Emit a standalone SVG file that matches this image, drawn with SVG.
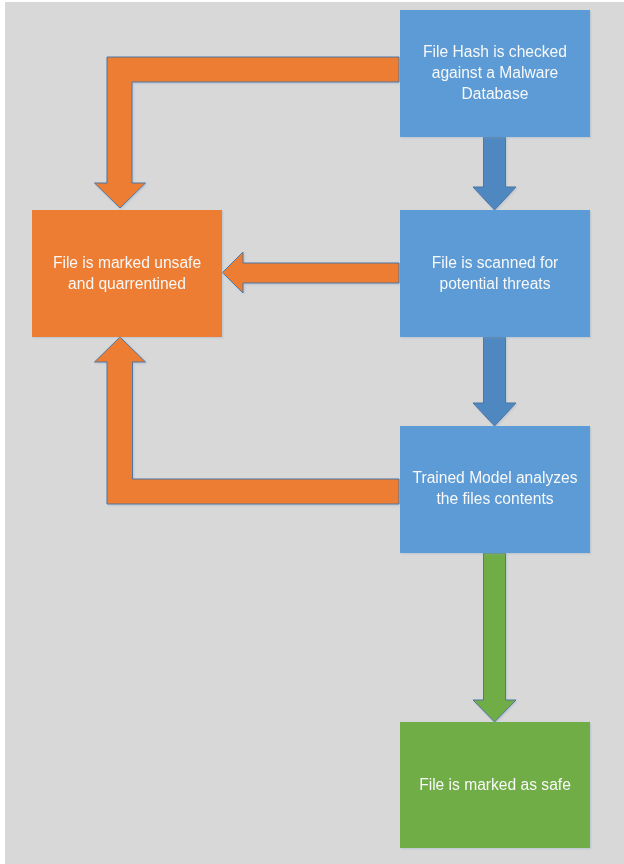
<svg xmlns="http://www.w3.org/2000/svg" width="624" height="864" viewBox="0 0 624 864">
  <defs>
    <filter id="soft" x="-10%" y="-10%" width="120%" height="120%">
      <feGaussianBlur in="SourceAlpha" stdDeviation="1.2"/>
      <feOffset dx="0.5" dy="1" result="b"/>
      <feFlood flood-color="#8fa8c4" flood-opacity="0.45"/>
      <feComposite in2="b" operator="in"/>
      <feMerge><feMergeNode/><feMergeNode in="SourceGraphic"/></feMerge>
    </filter>
  </defs>
  <style>
    .blue { fill: #5b9bd5; }
    .orange { fill: #ed7d31; }
    .green { fill: #70ad47; }
    .label { font-family: "Liberation Sans", "Open Sans", Arial, sans-serif; font-size: 15.6px; fill: #f8f8f8; text-anchor: middle; }
    .arrow { stroke: #4f74a0; stroke-width: 1; stroke-linejoin: miter; }
    .a-orange { fill: #ed7d31; }
    .a-blue { fill: #4f88c0; }
    .a-green { fill: #70ad47; }
  </style>

  <!-- page background -->
  <rect x="5" y="2" width="619" height="862" fill="#d8d8d8"/>

  <!-- connectors -->
  <g id="connectors" filter="url(#soft)">
    <!-- hash check -> unsafe -->
    <path class="arrow a-orange" d="M399,57 L107,57 L107,183 L94.5,183 L120,208 L145.5,183 L132,183 L132,82 L399,82 Z"/>
    <!-- scan -> unsafe -->
    <path class="arrow a-orange" d="M399,263 L243,263 L243,252 L222.5,272.5 L243,293 L243,283 L399,283 Z"/>
    <!-- model -> unsafe -->
    <path class="arrow a-orange" d="M399,479 L132.5,479 L132.5,362 L145.5,362 L120,337 L94.5,362 L107,362 L107,504 L399,504 Z"/>
    <!-- hash check -> scan -->
    <path class="arrow a-blue" d="M483.5,137 L505.5,137 L505.5,187 L516,187 L494.5,210 L473,187 L483.5,187 Z"/>
    <!-- scan -> model -->
    <path class="arrow a-blue" d="M483.5,337 L505.5,337 L505.5,403 L516,403 L494.5,426 L473,403 L483.5,403 Z"/>
    <!-- model -> safe -->
    <path class="arrow a-green" d="M483.5,553 L505.5,553 L505.5,700 L516,700 L494.5,722 L473,700 L483.5,700 Z"/>
  </g>

  <!-- nodes -->
  <g id="hash-check" filter="url(#soft)">
    <rect class="blue" x="400" y="10" width="190" height="127"/>
    <text class="label" x="495" y="57">File Hash is checked</text>
    <text class="label" x="495" y="78">against a Malware</text>
    <text class="label" x="495" y="99">Database</text>
  </g>

  <g id="scan" filter="url(#soft)">
    <rect class="blue" x="400" y="210" width="190" height="127"/>
    <text class="label" x="495" y="268">File is scanned for</text>
    <text class="label" x="495" y="289">potential threats</text>
  </g>

  <g id="model" filter="url(#soft)">
    <rect class="blue" x="400" y="426" width="190" height="127"/>
    <text class="label" x="495" y="483">Trained Model analyzes</text>
    <text class="label" x="495" y="504">the files contents</text>
  </g>

  <g id="unsafe" filter="url(#soft)">
    <rect class="orange" x="32" y="210" width="190" height="127"/>
    <text class="label" x="127" y="268">File is marked unsafe</text>
    <text class="label" x="127" y="289">and quarrentined</text>
  </g>

  <g id="safe" filter="url(#soft)">
    <rect class="green" x="400" y="722" width="190" height="126"/>
    <text class="label" x="495" y="790">File is marked as safe</text>
  </g>
</svg>
